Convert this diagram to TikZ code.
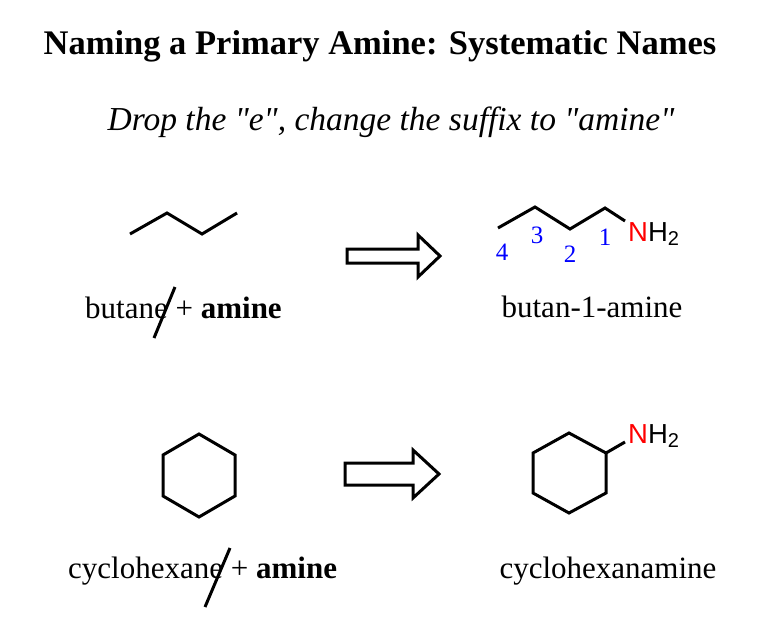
\documentclass[tikz,border=0pt]{standalone}
\usepackage{fontspec}
\setmainfont{Liberation Serif}
\newfontfamily\arialf{Liberation Sans}
\newcommand\straightq{\XeTeXglyph\XeTeXcharglyph"22\relax}
\begin{document}
\begin{tikzpicture}[x=1pt,y=-1pt,
  bond/.style={line width=3pt,line join=miter,line cap=butt},
  txt/.style={inner sep=0pt,anchor=base},
  bigarrow/.style={draw,line width=3pt,fill=white,line join=miter},
  num/.style={inner sep=0pt,anchor=base,text=blue,font=\fontsize{25}{29}\selectfont},
  amine/.style={inner sep=0pt,anchor=base west,font=\arialf\fontsize{27.5}{32}\selectfont}]
\useasboundingbox (0,0) rectangle (777,642);
% title
\node[txt] (title) at (380,55) {\fontsize{34.5}{40}\selectfont\bfseries Naming a Primary Amine: Systematic Names};
\node[txt] (sub) at (391,130) {\fontsize{33.5}{39}\selectfont\itshape Drop the \straightq e\straightq, change the suffix to \straightq amine\straightq};
% butane
\coordinate (b1) at (130,234);
\coordinate (b2) at (167,213);
\coordinate (b3) at (202,234);
\coordinate (b4) at (237,213);
\draw[bond] (b1) -- (b2) -- (b3) -- (b4);
\node[txt,anchor=base west] (butane) at (85,318) {\fontsize{31}{36}\selectfont butane + \textbf{amine}};
\coordinate (s1a) at (175,287);
\coordinate (s1b) at (154,338);
\draw[line width=3pt] (s1a) -- (s1b);
% arrow 1
\path[bigarrow] (347,249) -- (418,249) -- (418,235) -- (440,256) -- (418,277) -- (418,263) -- (347,263) -- cycle;
% butanamine
\coordinate (c4) at (498,228);
\coordinate (c3) at (535,207);
\coordinate (c2) at (570,229);
\coordinate (c1) at (605,208);
\coordinate (cn) at (625,221);
\draw[bond] (c4) -- (c3) -- (c2) -- (c1) -- (cn);
\node[amine] (nh2a) at (628,241) {\textcolor{red}{N}H\raisebox{-4.5pt}{\fontsize{20}{23}\selectfont 2}};
\node[num] (n4) at (502,260) {4};
\node[num] (n3) at (537,243) {3};
\node[num] (n2) at (570,262) {2};
\node[num] (n1) at (605,245) {1};
\node[txt] (butanamine) at (592,317) {\fontsize{31}{36}\selectfont butan-1-amine};
% cyclohexane
\coordinate (h1) at (199,434);
\coordinate (h2) at (235,455);
\coordinate (h3) at (235,496);
\coordinate (h4) at (199,517);
\coordinate (h5) at (163,496);
\coordinate (h6) at (163,455);
\draw[bond] (h1) -- (h2) -- (h3) -- (h4) -- (h5) -- (h6) -- cycle;
\node[txt,anchor=base west] (cyclohexane) at (68,578) {\fontsize{31}{36}\selectfont cyclohexane + \textbf{amine}};
\coordinate (s2a) at (230,548);
\coordinate (s2b) at (205,607);
\draw[line width=3pt] (s2a) -- (s2b);
% arrow 2
\path[bigarrow] (345,463) -- (413,463) -- (413,450) -- (439,474) -- (413,498) -- (413,485) -- (345,485) -- cycle;
% cyclohexanamine
\coordinate (k1) at (569,433);
\coordinate (k2) at (606,453);
\coordinate (k3) at (606,493);
\coordinate (k4) at (569,513);
\coordinate (k5) at (533,493);
\coordinate (k6) at (533,453);
\coordinate (kn) at (625,442);
\draw[bond] (k1) -- (k2) -- (k3) -- (k4) -- (k5) -- (k6) -- cycle;
\draw[bond] (k2) -- (kn);
\node[amine] (nh2b) at (628,443) {\textcolor{red}{N}H\raisebox{-4.5pt}{\fontsize{20}{23}\selectfont 2}};
\node[txt] (cyclohexanamine) at (608,578) {\fontsize{31}{36}\selectfont cyclohexanamine};
\end{tikzpicture}
\end{document}
